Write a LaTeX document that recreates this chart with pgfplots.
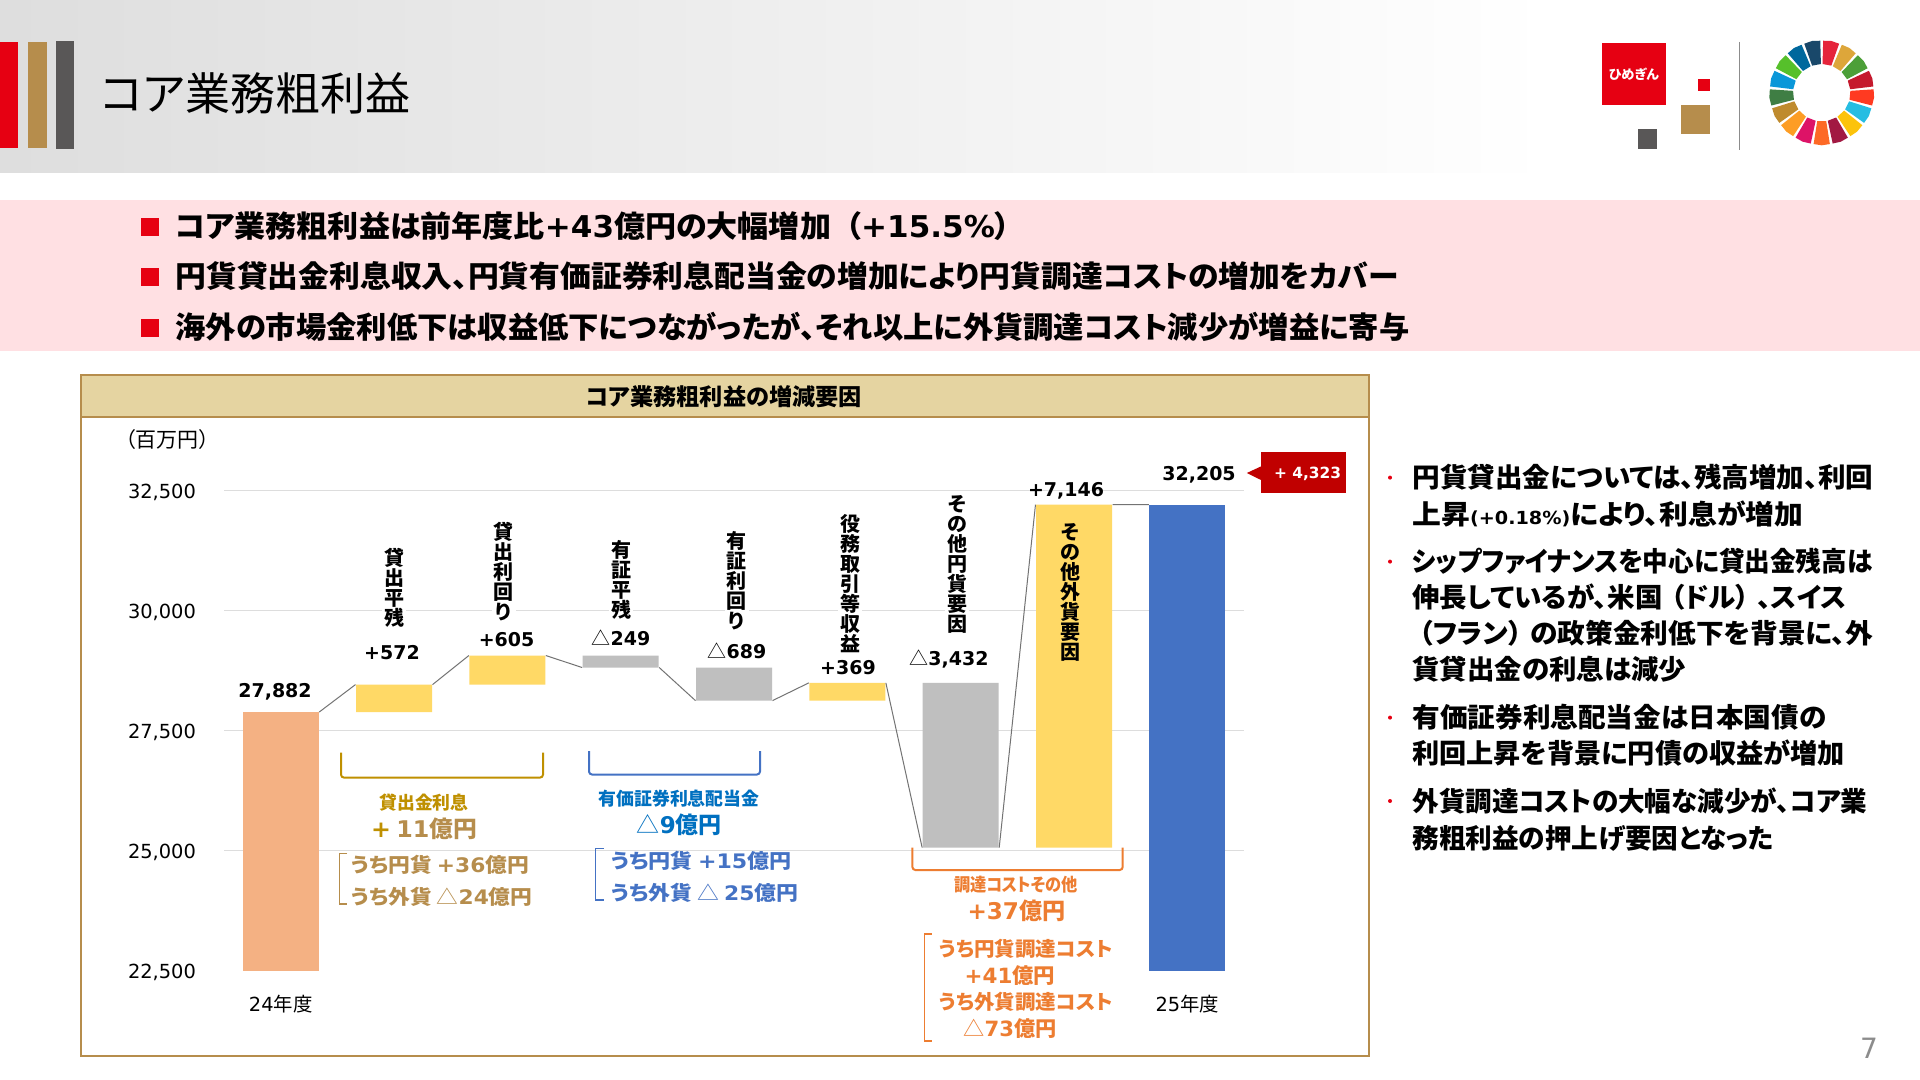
\documentclass[border=0pt]{standalone}
\usepackage{fontspec}
\usepackage{graphicx}
\usepackage{pgfplots}
\usepackage{pgfplotstable}
\pgfplotsset{compat=1.18}
\setmainfont[RawFeature=+palt]{Noto Sans CJK JP}
\newfontfamily\lat{DejaVu Sans}
\newfontfamily\cjk[RawFeature=+palt]{Noto Sans CJK JP}
\newcommand\fs[1]{\fontsize{#1}{#1}\selectfont}
\newcommand\B{\bfseries}
\newcommand\La[1]{{\lat #1}}
\newlength\pxu \setlength\pxu{0.5pt}
\newcommand\W[2]{\resizebox{#1\pxu}{\height}{#2}}
\definecolor{tan}{HTML}{B68D4C}
\definecolor{redm}{HTML}{E60012}
\definecolor{darkg}{HTML}{595757}
\definecolor{gold}{HTML}{BF9000}
\definecolor{blue1}{HTML}{4472C4}
\definecolor{blue2}{HTML}{0070C0}
\definecolor{orng}{HTML}{ED7D31}
\definecolor{pinkb}{HTML}{FFE0E3}
\definecolor{headb}{HTML}{E5D4A1}
\definecolor{gridc}{HTML}{DDDDDD}
\definecolor{barorange}{HTML}{F4B183}
\definecolor{baryellow}{HTML}{FFD966}
\definecolor{bargray}{HTML}{BFBFBF}
\definecolor{cred}{HTML}{C00000}
\pgfplotstableread{
x base orange yellow gray blue
0 0 27882 0 0 0
1 27882 0 572 0 0
2 28454 0 605 0 0
3 28810 0 0 249 0
4 28121 0 0 689 0
5 28121 0 369 0 0
6 25058 0 0 3432 0
7 25058 0 7146 0 0
8 0 0 0 0 32205
}\T
\begin{document}
\begin{tikzpicture}[x=0.5pt,y=-0.5pt]
\path[use as bounding box] (0,0) rectangle (1920,1080);
\fill[white] (0,0) rectangle (1920,1080);
% header
\shade[left color=black!13,right color=white] (0,0) rectangle (1550,172.7);
\fill[redm] (0,41.7) rectangle (18,148);
\fill[tan] (28,41.7) rectangle (46.5,148);
\fill[darkg] (56,41) rectangle (73.5,149);
\node[anchor=west,inner sep=0pt,font=\fs{22.5}] at (100,93) {\W{310}{コア業務粗利益}};
% logo
\fill[redm] (1602,43) rectangle (1666,105);
\node[text=white,inner sep=0pt,font=\B\fs{6.6}] at (1634,74.5) {ひめぎん};
\fill[redm] (1698,79) rectangle (1710,91);
\fill[tan] (1681,105) rectangle (1710,134);
\fill[darkg] (1638,129) rectangle (1657,149);
\draw[black!45,line width=0.5pt] (1739.3,42) -- (1739.3,150);
% SDG wheel
\begin{scope}[shift={(1821.7,92.7)}]
\foreach \i/\c in {0/E5243B,1/DDA63A,2/4C9F38,3/C5192D,4/FF3A21,5/26BDE2,6/FCC30B,7/A21942,8/FD6925,9/DD1367,10/FD9D24,11/BF8B2E,12/3F7E44,13/0A97D9,14/56C02B,15/00689D,16/19486A}{
  \definecolor{sdg}{HTML}{\c}
  \pgfmathsetmacro\aa{-90+1.6+21.176*\i}
  \pgfmathsetmacro\ab{-90+21.176-1.6+21.176*\i}
  \pgfmathsetmacro\am{(\aa+\ab)/2}
  \fill[sdg] (\aa:52) -- (\am:52.6) -- (\ab:52) -- (\ab:28.7) -- (\aa:28.7) -- cycle;
}
\end{scope}
% pink band
\fill[pinkb] (0,200) rectangle (1920,350.7);
\foreach \y in {227,277,328}{\fill[redm] (141,\y-9) rectangle (159,\y+9);}
\node[anchor=west,inner sep=0pt,font=\B\fs{15}] at (175,225.7) {\W{835}{コア業務粗利益は前年度比\La{+43}億円の大幅増加\hspace{7pt}（\La{+15.5\%}）}};
\node[anchor=west,inner sep=0pt,font=\B\fs{15}] at (175,276) {\W{1223}{円貨貸出金利息収入、円貨有価証券利息配当金の増加により円貨調達コストの増加をカバー}};
\node[anchor=west,inner sep=0pt,font=\B\fs{15}] at (175,327) {\W{1234}{海外の市場金利低下は収益低下につながったが、それ以上に外貨調達コスト減少が増益に寄与}};
% panel
\fill[headb] (80.7,375.4) rectangle (1369,417);
\draw[tan,line width=1pt] (80.7,375.4) rectangle (1369,1055.7);
\draw[tan,line width=0.8pt] (80.7,417) -- (1369,417);
\node[font=\B\fs{11.6}] at (724,397) {\W{276}{コア業務粗利益の増減要因}};
\node[font=\fs{10.5},anchor=west,inner sep=0pt] at (125,440) {\W{84}{（百万円）}};
% chart
\begin{axis}[
  at={(112pt,-485.2pt)},anchor=south west,scale only axis,
  width=510pt,height=240pt,
  xmin=-0.5,xmax=8.5,ymin=22500,ymax=32500,
  ybar stacked,bar width=38pt,
  axis line style={draw=none},
  xtick={0,8},xticklabels={{\lat 24}年度,{\lat 25}年度},
  ytick={25000,27500,30000,32500},
  extra y ticks={22500},
  extra y tick style={grid=none},
  ymajorgrids,
  grid style={gridc,line width=0.6pt},
  major tick length=0pt,
  tick style={draw=none},
  /pgf/number format/assume math mode=true,
  /pgf/number format/1000 sep={,},
  scaled y ticks=false,
  yticklabel style={font=\lat\fs{9.7},xshift=-10.5pt,yshift=-1pt},
  xticklabel style={font=\fs{9.7},yshift=-9pt},
]
\addplot[fill=none,draw=none] table[x=x,y=base]{\T};
\addplot[draw=none,fill=barorange] table[x=x,y=orange]{\T};
\addplot[draw=none,fill=baryellow] table[x=x,y=yellow]{\T};
\addplot[draw=none,fill=bargray] table[x=x,y=gray]{\T};
\addplot[draw=none,fill=blue1] table[x=x,y=blue]{\T};
\end{axis}
\begin{axis}[
  at={(112pt,-485.2pt)},anchor=south west,scale only axis,
  width=510pt,height=240pt,
  xmin=-0.5,xmax=8.5,ymin=22500,ymax=32500,
  hide axis,unbounded coords=jump,
]
\addplot[black!55,line width=0.5pt] coordinates {
(0.34,27882)(0.66,28454)(1,nan)
(1.34,28454)(1.66,29059)(2,nan)
(2.34,29059)(2.66,28810)(3,nan)
(3.34,28810)(3.66,28121)(4,nan)
(4.34,28121)(4.66,28490)(5,nan)
(5.34,28490)(5.66,25058)(6,nan)
(6.34,25058)(6.66,32204)(7,nan)
(7.34,32204)(7.66,32204)
};
\end{axis}
% data labels
\tikzset{dl/.style={font=\lat\B\fs{9.5},inner sep=0pt},
 vt/.style={align=center,font=\B\fontsize{10}{10}\selectfont,inner sep=1pt,fill=white}}
\node[dl] at (275,691.5) {27,882};
\node[dl] at (392,653) {+572};
\node[dl] at (506.6,640) {+605};
\node[dl] at (621,638) {{\cjk\mdseries △}249};
\node[dl] at (737,651) {{\cjk\mdseries △}689};
\node[dl] at (848,668) {+369};
\node[dl] at (949,659) {{\cjk\mdseries △}3,432};
\node[dl] at (1066,490.5) {+7,146};
\node[dl] at (1199,475) {32,205};
% vertical labels
\node[vt] at (394,588) {貸\\出\\平\\残};
\node[vt] at (503.5,572) {貸\\出\\利\\回\\り};
\node[vt] at (621,580) {有\\証\\平\\残};
\node[vt] at (736.5,581) {有\\証\\利\\回\\り};
\node[vt] at (850,583.6) {役\\務\\取\\引\\等\\収\\益};
\node[vt] at (957,564) {そ\\の\\他\\円\\貨\\要\\因};
\node[vt,fill=none] at (1070,592) {そ\\の\\他\\外\\貨\\要\\因};
% red callout
\fill[cred] (1261,451.7) rectangle (1345.5,493);
\fill[cred] (1246.8,473) -- (1261,466.4) -- (1261,480) -- cycle;
\node[text=white,font=\lat\B\fs{7.7},inner sep=0pt] at (1307.5,474) {+ 4,323};
% brackets
\draw[gold,line width=1pt,rounded corners=1.5pt] (341,752.6) -- (341,777.6) -- (543,777.6) -- (543,752.6);
\draw[blue1,line width=1pt,rounded corners=1.5pt] (589,751) -- (589,774.5) -- (760,774.5) -- (760,751);
\draw[orng,line width=1pt,rounded corners=1.5pt] (912.4,847.7) -- (912.4,870) -- (1122.7,870) -- (1122.7,847.7);
\draw[tan,line width=0.7pt] (347,853.5) -- (339.6,853.5) -- (339.6,904) -- (347,904);
\draw[blue1,line width=0.7pt] (603.5,848.6) -- (595.5,848.6) -- (595.5,900) -- (603.5,900);
\draw[orng,line width=0.7pt] (931.6,934) -- (924.5,934) -- (924.5,1041) -- (931.6,1041);
% gold annotations
\tikzset{an/.style={font=\B\fs{#1},inner sep=0pt}}
\node[an=9,text=gold] at (424,802.6) {\W{89}{貸出金利息}};
\node[an=11.5,text=gold] at (424,829) {\W{106}{\La{+} {\color{tan}\La{11}億円}}};
\node[an=10,text=tan,anchor=west] at (351,864.6) {\W{177.5}{うち円貨 \La{+36}億円}};
\node[an=10,text=tan,anchor=west] at (351,897) {\W{181}{うち外貨 {\mdseries △}\La{24}億円}};
% blue annotations
\node[an=9,text=blue2] at (679,798.6) {\W{161}{有価証券利息配当金}};
\node[an=11.5,text=blue2] at (679.4,824.5) {\W{85}{{\mdseries △}\La{9}億円}};
\node[an=10,text=blue1,anchor=west] at (611,861) {\W{180}{うち円貨 \La{+15}億円}};
\node[an=10,text=blue1,anchor=west] at (611,893) {\W{187}{うち外貨 {\mdseries △} \La{25}億円}};
% orange annotations
\node[an=9,text=orng] at (1016,885) {\W{124}{調達コストその他}};
\node[an=11.5,text=orng] at (1016.4,910.6) {\W{97.8}{\La{+37}億円}};
\node[an=10,text=orng,anchor=west] at (938.8,949) {\W{173.6}{うち円貨調達コスト}};
\node[an=10.5,text=orng] at (1010,975.8) {\W{90.6}{\La{+41}億円}};
\node[an=10,text=orng,anchor=west] at (938.8,1002) {\W{173.6}{うち外貨調達コスト}};
\node[an=10.5,text=orng] at (1010,1028.5) {\W{93}{{\mdseries △}\La{73}億円}};
% right text
\foreach \y in {477.6,561.6,717.6,801}{\fill[redm] (1390,\y) circle[radius=2];}
\tikzset{rt/.style={anchor=west,inner sep=0pt,font=\B\fs{13.5}}}
\node[rt] at (1412,477.6) {\W{461}{円貨貸出金については、残高増加、利回}};
\node[rt] at (1412,514) {\W{391}{上昇{\lat\fs{9}(+0.18\%)}により、利息が増加}};
\node[rt] at (1412,561.6) {\W{460}{シップファイナンスを中心に貸出金残高は}};
\node[rt] at (1412,597) {\W{434}{伸長しているが、米国\hspace{4pt}（ドル）\hspace{4pt}、スイス}};
\node[rt] at (1419,633) {\W{454}{（フラン）\hspace{4pt}の政策金利低下を背景に、外}};
\node[rt] at (1412,669) {\W{274}{貨貸出金の利息は減少}};
\node[rt] at (1412,717.6) {\W{414}{有価証券利息配当金は日本国債の}};
\node[rt] at (1412,753.5) {\W{432.5}{利回上昇を背景に円債の収益が増加}};
\node[rt] at (1412,801) {\W{455}{外貨調達コストの大幅な減少が、コア業}};
\node[rt] at (1412,838) {\W{361}{務粗利益の押上げ要因となった}};
\node[font=\lat\fs{14},text=black!45,inner sep=0pt] at (1869,1048) {7};
\end{tikzpicture}
\end{document}
